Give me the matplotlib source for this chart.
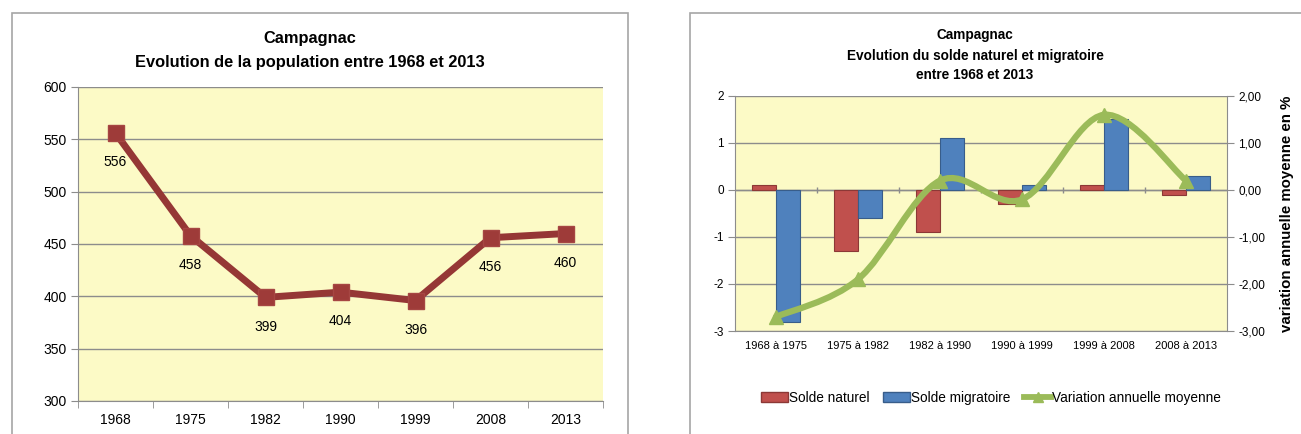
import matplotlib.pyplot as plt
from matplotlib.path import Path
from matplotlib.patches import PathPatch, Rectangle
from matplotlib.lines import Line2D
from matplotlib.ticker import FuncFormatter, FixedLocator

# Population of Campagnac by census year
years = ['1968', '1975', '1982', '1990', '1999', '2008', '2013']
population = [556, 458, 399, 404, 396, 456, 460]

# Natural / migration balance per intercensal period
periods = ['1968 à 1975', '1975 à 1982', '1982 à 1990',
           '1990 à 1999', '1999 à 2008', '2008 à 2013']
solde_naturel = [0.1, -1.3, -0.9, -0.3, 0.1, -0.1]
solde_migratoire = [-2.8, -0.6, 1.1, 0.1, 1.5, 0.3]
variation_annuelle = [-2.7, -1.9, 0.2, -0.2, 1.6, 0.2]

W, H = 1301, 434
plt.rcParams['font.family'] = ['Liberation Sans', 'DejaVu Sans']
plt.rcParams['axes.unicode_minus'] = False

BG = '#FCFAC6'
GRID = '#8C8C8C'
FRAME = '#A6A6A6'


def px_rect(left, top, right, bottom):
    return [left / W, 1 - bottom / H, (right - left) / W, (bottom - top) / H]


fig = plt.figure(figsize=(W / 100, H / 100), dpi=100)

# outer chart frames
for l, t, r, b in [(12, 13, 628, 440), (690, 13, 1310, 440)]:
    fig.patches.append(Rectangle((l / W, 1 - b / H), (r - l) / W, (b - t) / H,
                                 transform=fig.transFigure, fill=False,
                                 edgecolor=FRAME, linewidth=1.2))

# ---------- left chart: population ----------
ax1 = fig.add_axes(px_rect(78, 87, 603, 401))
ax1.set_facecolor(BG)
x1 = list(range(len(years)))
ax1.plot(x1, population, color='#953735', linewidth=5,
         marker='s', markersize=11, markerfacecolor='#9E3B39',
         markeredgecolor='#A64643', markeredgewidth=1.0, zorder=3)
for xi, v in zip(x1, population):
    ax1.annotate(str(v), (xi, v), xytext=(0, -16), textcoords='offset points',
                 ha='center', va='top', fontsize=10, zorder=4)

ax1.set_xlim(-0.5, len(years) - 0.5)
ax1.set_ylim(300, 600)
ax1.set_yticks(range(300, 601, 50))
ax1.set_xticks(x1)
ax1.set_xticklabels(years)
ax1.xaxis.set_minor_locator(FixedLocator([i - 0.5 for i in range(len(years) + 1)]))
ax1.tick_params(axis='x', which='major', length=0, labelsize=10, pad=9)
ax1.tick_params(axis='x', which='minor', length=5, color=GRID, direction='out')
ax1.tick_params(axis='y', length=5, color=GRID, labelsize=10, pad=3)
ax1.grid(axis='y', color=GRID, linewidth=1.0)
ax1.set_axisbelow(True)
for s in ['top', 'right']:
    ax1.spines[s].set_visible(False)
for s in ['left', 'bottom']:
    ax1.spines[s].set_color(GRID)

fig.text(310 / W, 1 - 38 / H, 'Campagnac', ha='center', va='center',
         fontsize=11.8, fontweight='bold')
fig.text(310 / W, 1 - 62 / H, 'Evolution de la population entre 1968 et 2013',
         ha='center', va='center', fontsize=11.8, fontweight='bold')

# ---------- right chart: natural / migration balance ----------
ax2 = fig.add_axes(px_rect(735, 96, 1227, 331))
ax2.set_facecolor(BG)
x2 = list(range(len(periods)))
bw = 0.29
ax2.bar([i - bw / 2 for i in x2], solde_naturel, width=bw, color='#C0504D',
        edgecolor='#8C3836', linewidth=0.8, label='Solde naturel', zorder=2)
ax2.bar([i + bw / 2 for i in x2], solde_migratoire, width=bw, color='#4F81BD',
        edgecolor='#385D8A', linewidth=0.8, label='Solde migratoire', zorder=2)

ax2.set_xlim(-0.5, len(periods) - 0.5)
ax2.set_ylim(-3, 2)
ax2.set_yticks(range(-3, 3))
ax2.set_xticks(x2)
ax2.set_xticklabels(periods)
ax2.tick_params(axis='x', length=0, labelsize=8, pad=7)
ax2.tick_params(axis='y', length=5, color=GRID, labelsize=8.5, pad=3)
ax2.grid(axis='y', color=GRID, linewidth=1.0)
ax2.set_axisbelow(True)
for s in ['top', 'right']:
    ax2.spines[s].set_visible(False)
for s in ['left', 'bottom']:
    ax2.spines[s].set_color(GRID)

# category axis crossing at zero, with boundary ticks
ax2.axhline(0, color=GRID, linewidth=1.0, zorder=1)
ax2.vlines([i + 0.5 for i in x2[:-1]], -0.06, 0.06, color=GRID,
           linewidth=1.0, zorder=1)

ax3 = ax2.twinx()
ax3.set_ylim(-3, 2)
ax3.set_yticks(range(-3, 3))
ax3.yaxis.set_major_formatter(FuncFormatter(lambda v, p: f'{v:.2f}'.replace('.', ',')))
ax3.tick_params(axis='y', length=5, color=GRID, labelsize=8.5, pad=3)
for s in ['top', 'left', 'bottom']:
    ax3.spines[s].set_visible(False)
ax3.spines['right'].set_color(GRID)
ax3.set_ylabel('variation annuelle moyenne en %', fontweight='bold', fontsize=10.8)
ax3.yaxis.set_label_coords(1.107, 0.5)

# smoothed line through the yearly variation (Catmull-Rom as cubic Bezier)
pts = list(zip(x2, variation_annuelle))
verts = [pts[0]]
codes = [Path.MOVETO]
for i in range(len(pts) - 1):
    p0 = pts[max(i - 1, 0)]
    p1 = pts[i]
    p2 = pts[i + 1]
    p3 = pts[min(i + 2, len(pts) - 1)]
    c1 = (p1[0] + (p2[0] - p0[0]) / 6, p1[1] + (p2[1] - p0[1]) / 6)
    c2 = (p2[0] - (p3[0] - p1[0]) / 6, p2[1] - (p3[1] - p1[1]) / 6)
    verts += [c1, c2, p2]
    codes += [Path.CURVE4] * 3
ax3.add_patch(PathPatch(Path(verts, codes), facecolor='none',
                        edgecolor='#9BBB59', linewidth=4.5, capstyle='round',
                        joinstyle='round', zorder=3))
ax3.plot(x2, variation_annuelle, linestyle='none', marker='^', markersize=10,
         color='#9BBB59', zorder=4)

fig.text(975 / W, 1 - 35 / H, 'Campagnac', ha='center', va='center',
         fontsize=9.8, fontweight='bold')
fig.text(975 / W, 1 - 56 / H, 'Evolution du solde naturel et migratoire',
         ha='center', va='center', fontsize=9.8, fontweight='bold')
fig.text(975 / W, 1 - 75 / H, 'entre 1968 et 2013',
         ha='center', va='center', fontsize=9.8, fontweight='bold')

handles = [Rectangle((0, 0), 1, 1, facecolor='#C0504D', edgecolor='#8C3836'),
           Rectangle((0, 0), 1, 1, facecolor='#4F81BD', edgecolor='#385D8A'),
           Line2D([], [], color='#9BBB59', linewidth=4.2, marker='^', markersize=7)]
fig.legend(handles, ['Solde naturel', 'Solde migratoire', 'Variation annuelle moyenne'],
           loc='center', bbox_to_anchor=(991 / W, 1 - 398 / H), ncol=3, frameon=False,
           fontsize=9.8, handlelength=2.0, handleheight=0.75, handletextpad=0.05,
           columnspacing=1.0)

fig.savefig('out.png', dpi=100, facecolor='white')
